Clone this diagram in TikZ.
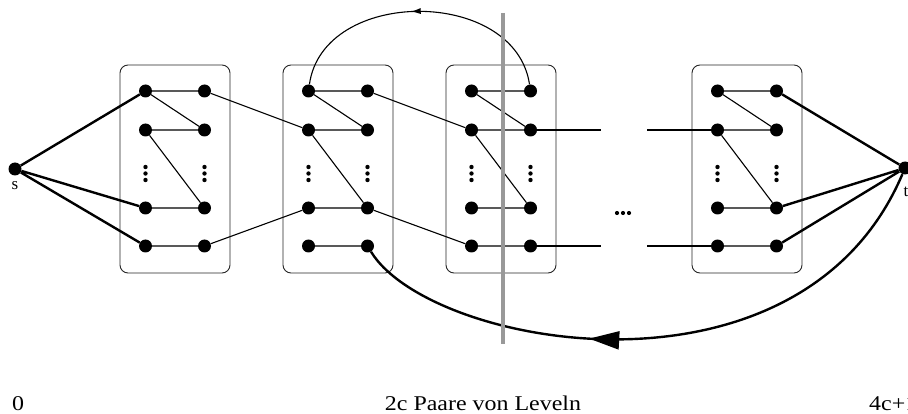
\documentclass[tikz,border=0pt]{standalone}
\usepackage{fontspec}
\setmainfont{Liberation Serif}
\usetikzlibrary{arrows.meta,decorations.markings}
\begin{document}
\begin{tikzpicture}[x=1pt,y=-1pt,
 vtx/.style={circle,fill=black,inner sep=0pt,minimum size=13pt},
 thinedge/.style={line width=1.1pt},
 thickedge/.style={line width=2.4pt},
 levelbox/.style={draw=black!85,line width=0.9pt,rounded corners=8pt},
 cutline/.style={draw=black!40,line width=4pt},
 lbl/.style={font=\fontsize{17}{20}\selectfont,inner sep=0pt},
 bottomlbl/.style={font=\fontsize{21}{24}\selectfont,inner sep=0pt,xscale=1.14}
]
\useasboundingbox (0,0) rectangle (908,414);
% level boxes with vertices
\foreach \k/\bx in {1/120,2/283,3/446,4/692}{
  \draw[levelbox] (\bx,65) rectangle (\bx+110,273);
  \foreach \r/\yy in {1/91,2/130,3/208,4/246}{
    \node[vtx] (L\k\r) at (\bx+25.5,\yy) {};
    \node[vtx] (R\k\r) at (\bx+84.5,\yy) {};
  }
  \foreach \dy in {167,173.5,180}{
    \fill (\bx+25.5,\dy) circle (2.2pt);
    \fill (\bx+84.5,\dy) circle (2.2pt);
  }
  \draw[thinedge] (L\k1) -- (R\k1) (L\k2) -- (R\k2) (L\k3) -- (R\k3) (L\k4) -- (R\k4)
                  (L\k1) -- (R\k2) (L\k2) -- (R\k3);
}
% source and sink
\node[vtx] (s) at (15,169) {};
\node[vtx] (t) at (905,168) {};
\node[lbl,anchor=base] (slbl) at (15,190) {s};
\node[lbl,anchor=base] (tlbl) at (906,197) {t};
% connections between levels
\draw[thinedge] (R11) -- (L22) (R14) -- (L23)
                (R21) -- (L32) (R23) -- (L34);
\coordinate (c1) at (601,130);
\coordinate (c2) at (601,246);
\coordinate (c3) at (647,130);
\coordinate (c4) at (647,246);
\draw[thinedge] (R32) -- (c1) (R34) -- (c2) (c3) -- (L42) (c4) -- (L44);
\foreach \dx in {617,623,629}{ \fill (\dx,213) circle (2.1pt); }
% thick edges from s and to t
\draw[thickedge] (s) -- (L11) (s) -- (L13) (s) -- (L14);
\draw[thickedge] (R41) -- (t) (R43) -- (t) (R44) -- (t);
% top arc
\draw[thinedge,decoration={markings,mark=at position 0.53 with {\arrow{Latex[length=10pt,width=6pt]}}},postaction={decorate}]
  (R31) .. controls (515,-13) and (323,-13) .. (L21);
% bottom thick curve
\draw[thickedge,decoration={markings,mark=at position 0.39 with {\arrowreversed{Triangle[length=30pt,width=18pt]}}},postaction={decorate}]
  (R24) .. controls (430,348) and (800,415) .. (t);
% cut line
\draw[cutline] (503,13) -- (503,344);
% bottom labels
\node[bottomlbl,anchor=base] (l0) at (18,410) {0};
\node[bottomlbl,anchor=base] (lmid) at (483,410) {2c Paare von Leveln};
\node[bottomlbl,anchor=base west] (lend) at (869,410) {4c+1};
\end{tikzpicture}
\end{document}
